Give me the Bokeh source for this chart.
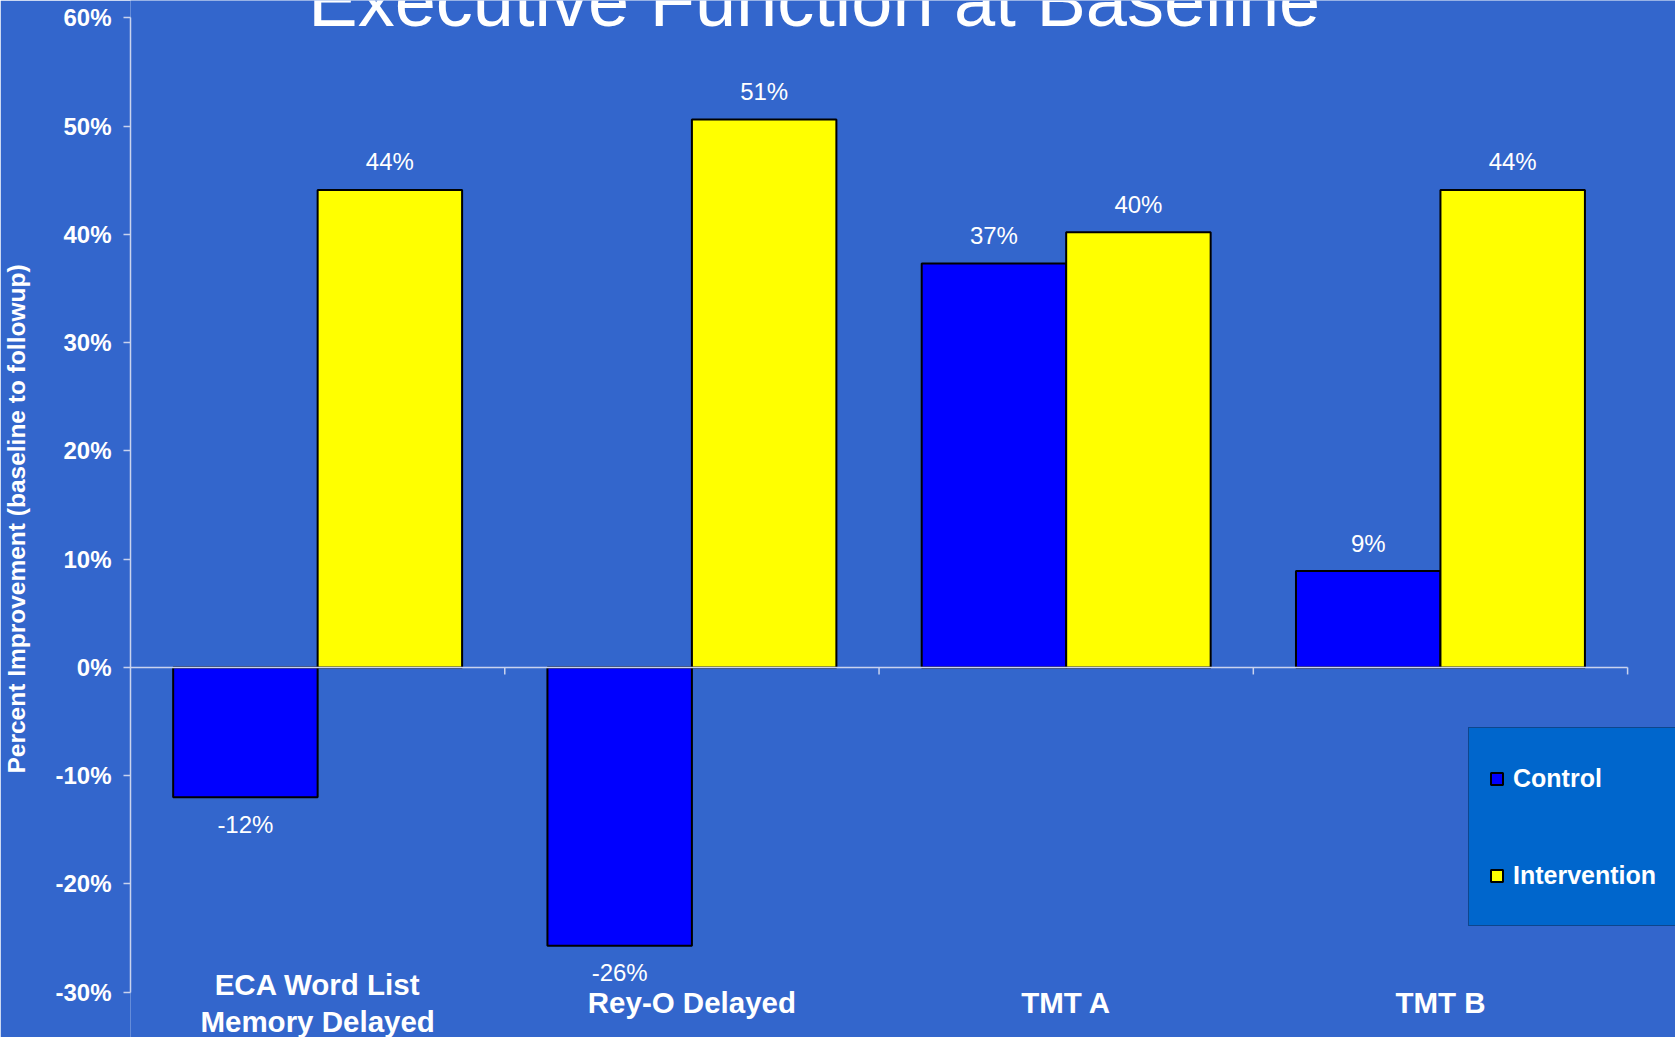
from bokeh.plotting import figure
from bokeh.models import (Range1d, FixedTicker, ColumnDataSource, LabelSet, Label,
                          Legend, LegendItem)
from bokeh.core.properties import value
from bokeh.embed import file_html
from bokeh.resources import INLINE

# ---------------- data ----------------
categories = ["ECA Word List\nMemory Delayed", "Rey-O Delayed", "TMT A", "TMT B"]
series = ["Control", "Intervention"]
control = [-12.0, -25.7, 37.3, 8.9]
intervention = [44.1, 50.6, 40.2, 44.1]
y_ticks = [-30, -20, -10, 0, 10, 20, 30, 40, 50, 60]
title_text = "Executive Function at Baseline"
y_label = "Percent Improvement (baseline to followup)"

# ---------------- style / layout ----------------
BG = "#3366CC"
FONT = "Liberation Sans"
PALE = "#c9d3ee"
colors = ["#0000FF", "#FFFF00"]
bar_w = 0.386
Y_MIN, Y_MAX = y_ticks[0], y_ticks[-1]
# the plotting frame covers the whole canvas right of the axis, so texts that
# sit outside the value area (title, category names, legend) are not clipped
view_y = (-34.18, 61.6)
view_x_max = 4.128
cat_label_y = -30.95      # centre of the category-name block
cat_line_gap = 3.42       # distance between lines of a category name
title_y = 61.6

n = len(categories)
centers = [i + 0.5 for i in range(n)]
bounds = [i + 1 for i in range(n)]

p = figure(width=1675, height=1037, x_range=Range1d(0, view_x_max),
           y_range=Range1d(*view_y),
           output_backend="svg", toolbar_location=None,
           min_border_left=125, min_border_right=0, min_border_top=0, min_border_bottom=0,
           background_fill_color=BG, border_fill_color=BG, outline_line_color=None)
p.grid.visible = False
p.xaxis.visible = False

# y axis
ya = p.yaxis[0]
ya.bounds = (Y_MIN, Y_MAX)
ya.ticker = FixedTicker(ticks=y_ticks)
ya.major_label_overrides = {t: f"{t}%" for t in y_ticks}
ya.major_label_text_font = FONT
ya.major_label_text_font_style = "bold"
ya.major_label_text_font_size = "24px"
ya.major_label_text_color = "white"
ya.major_label_standoff = 12
ya.major_tick_out = 7
ya.major_tick_in = 0
ya.minor_tick_line_color = None
ya.major_tick_line_color = PALE
ya.axis_line_color = PALE
ya.axis_line_width = 1.5
ya.major_tick_line_width = 1.5
ya.axis_label = y_label
ya.axis_label_text_font = FONT
ya.axis_label_text_font_style = "bold"
ya.axis_label_text_font_size = "24.5px"
ya.axis_label_text_color = "white"
ya.axis_label_standoff = 22

# bars
offs = [-bar_w / 2, bar_w / 2]
renderers = []
for s, vals, col, o in zip(series, [control, intervention], colors, offs):
    src = ColumnDataSource(dict(x=[c + o for c in centers], top=vals))
    r = p.vbar(x="x", top="top", bottom=0, width=bar_w, source=src,
               fill_color=col, line_color="black", line_width=2)
    renderers.append(r)

# category axis at zero, with ticks on the category boundaries
p.segment(x0=[0], y0=[0], x1=[n], y1=[0], line_color=PALE, line_width=1.5)
p.segment(x0=bounds, y0=[0] * n, x1=bounds, y1=[-0.65] * n, line_color=PALE, line_width=1.5)

# category names (low position, under the value area)
cx, cy, ct = [], [], []
for c, name in zip(centers, categories):
    lines = name.split("\n")
    k = len(lines)
    for j, line in enumerate(lines):
        cx.append(c)
        cy.append(cat_label_y + (k - 1) / 2 * cat_line_gap - j * cat_line_gap)
        ct.append(line)
p.add_layout(LabelSet(x="x", y="y", text="text", source=ColumnDataSource(dict(x=cx, y=cy, text=ct)),
                      text_align="center", text_baseline="middle",
                      text_font=value(FONT), text_font_style="bold",
                      text_font_size="29.5px", text_color="white"))

# value labels
lx, ly, lt, lo = [], [], [], []
for vals, o in zip([control, intervention], offs):
    for c, v in zip(centers, vals):
        lx.append(c + o)
        ly.append(v)
        lt.append(f"{v:.0f}%")
        lo.append(28 if v >= 0 else -27)
lab_src = ColumnDataSource(dict(x=lx, y=ly, text=lt, yo=lo))
p.add_layout(LabelSet(x="x", y="y", text="text", y_offset="yo", source=lab_src,
                      text_align="center", text_baseline="middle",
                      text_font=value(FONT), text_font_size="24px", text_color="white"))

# title (partly cut off at the top, as in the original)
p.add_layout(Label(x=1.827, y=title_y, text=title_text, text_align="center",
                   text_baseline="middle", text_font=FONT, text_font_size="74px",
                   text_color="white"))

# legend
legend = Legend(items=[LegendItem(label=s, renderers=[r]) for s, r in zip(series, renderers)],
                location=(1338, 111), orientation="vertical",
                padding=20, spacing=37, margin=0,
                glyph_width=15, glyph_height=15, label_height=60, label_standoff=9,
                label_text_font=FONT, label_text_font_style="bold",
                label_text_font_size="25px", label_text_color="white",
                background_fill_color="#0066CC", background_fill_alpha=1.0,
                border_line_color="#1a2550", border_line_width=1.5)
p.add_layout(legend)

open("out.html", "w").write(file_html(p, INLINE))
